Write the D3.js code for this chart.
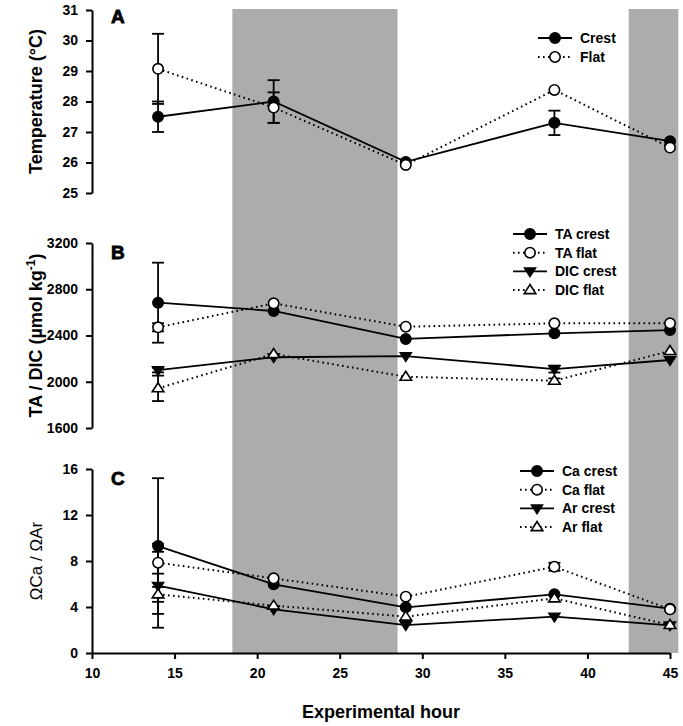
<!DOCTYPE html>
<html>
<head>
<meta charset="utf-8">
<script src="https://cdn.jsdelivr.net/npm/d3@7/dist/d3.min.js"></script>
<style>
  body { margin: 0; background: #fff; }
  svg { display: block; font-family: "Liberation Sans", Arial, sans-serif; }
</style>
</head>
<body>
<svg id="chart" width="683" height="726"></svg>
<script>
// ---------- data ----------
const hours = [14, 21, 29, 38, 45];
const xTicks = [10, 15, 20, 25, 30, 35, 40, 45];
const nightStart = [18.5, 42.5];
const nightEnd = [28.5, 45.5];

// Panel A – temperature
const tempCrest = [27.5, 28.0, 26.02, 27.3, 26.7];
const tempCrestErr = [0.5, 0.7, 0, 0.4, 0];
const tempFlat = [29.07, 27.8, 25.92, 28.38, 26.49];
const tempFlatErr = [1.15, 0.5, 0, 0, 0];
const ticksA = [25, 26, 27, 28, 29, 30, 31];

// Panel B – TA / DIC
const taCrest = [2684, 2612, 2370, 2419, 2447];
const taCrestErr = [346, 0, 0, 0, 0];
const taFlat = [2471, 2678, 2476, 2505, 2505];
const taFlatErr = [35, 0, 0, 0, 0];
const dicCrest = [2101, 2212, 2222, 2110, 2188];
const dicCrestErr = [20, 0, 0, 30, 0];
const dicFlat = [1943, 2240, 2043, 2009, 2266];
const dicFlatErr = [110, 0, 0, 20, 0];
const ticksB = [1600, 2000, 2400, 2800, 3200];

// Panel C – saturation states
const caCrest = [9.3, 5.97, 3.97, 5.1, 3.85];
const caCrestErr = [5.9, 0, 0, 0, 0];
const caFlat = [7.85, 6.49, 4.9, 7.5, 3.8];
const caFlatErr = [0.95, 0, 0, 0.35, 0];
const arCrest = [5.85, 3.8, 2.43, 3.16, 2.4];
const arCrestErr = [3.65, 0, 0, 0, 0];
const arFlat = [5.1, 4.12, 3.16, 4.75, 2.43];
const arFlatErr = [0.65, 0, 0, 0, 0];
const ticksC = [0, 4, 8, 12, 16];

// ---------- layout ----------
const svg = d3.select("#chart");
const x = d3.scaleLinear().domain([10, 45]).range([92, 670]);
const yA = d3.scaleLinear().domain([25, 31]).range([193, 10]);
const yB = d3.scaleLinear().domain([1600, 3200]).range([428, 243]);
const yC = d3.scaleLinear().domain([0, 16]).range([653, 469]);

const shade = "#adabac";
const shadeTop = 9, shadeBottom = yC(0);
const FONT = "Liberation Sans, Arial, sans-serif";

// night shading
svg.append("g").selectAll("rect")
  .data(nightStart.map((s, i) => [s, nightEnd[i]]))
  .join("rect")
  .attr("x", d => x(d[0]))
  .attr("width", d => x(d[1]) - x(d[0]))
  .attr("y", shadeTop)
  .attr("height", shadeBottom - shadeTop)
  .attr("fill", shade);

function yAxis(scale, ticks) {
  const g = svg.append("g")
    .attr("transform", `translate(${x(10)},0)`)
    .call(d3.axisLeft(scale).tickValues(ticks).tickSize(6).tickSizeOuter(0).tickPadding(8).tickFormat(d3.format("d")));
  g.select(".domain").attr("stroke-width", 2);
  g.selectAll(".tick line").attr("stroke-width", 2);
  g.selectAll(".tick text").attr("font-size", 14).attr("font-weight", "bold").attr("fill", "#000")
    .attr("font-family", FONT);
  return g;
}
yAxis(yA, ticksA);
yAxis(yB, ticksB);
yAxis(yC, ticksC);

// x axis
const gx = svg.append("g")
  .attr("transform", `translate(0,${yC(0)})`)
  .call(d3.axisBottom(x).tickValues(xTicks).tickSize(6).tickSizeOuter(0).tickPadding(9));
gx.select(".domain").attr("stroke-width", 2);
gx.selectAll(".tick line").attr("stroke-width", 2);
gx.selectAll(".tick text").attr("font-size", 14).attr("font-weight", "bold").attr("fill", "#000")
  .attr("font-family", FONT);

// ---------- series drawing ----------
const R = 5.2;
function marker(g, type, cx, cy) {
  if (type === "fc" || type === "oc") {
    g.append("circle").attr("cx", cx).attr("cy", cy).attr("r", R)
      .attr("fill", type === "fc" ? "#000" : "#fff").attr("stroke", "#000").attr("stroke-width", 1.6);
  } else if (type === "fd") {
    const s = 5.8;
    g.append("path").attr("d", `M${cx - s},${cy - s * 0.6}L${cx + s},${cy - s * 0.6}L${cx},${cy + s * 0.95}Z`)
      .attr("fill", "#000").attr("stroke", "#000").attr("stroke-width", 1.2);
  } else if (type === "ou") {
    const s = 5.8;
    g.append("path").attr("d", `M${cx - s},${cy + s * 0.6}L${cx + s},${cy + s * 0.6}L${cx},${cy - s * 0.95}Z`)
      .attr("fill", "#fff").attr("stroke", "#000").attr("stroke-width", 1.6);
  }
}

function series(y, vals, dashed) {
  const line = d3.line().x((d, i) => x(hours[i])).y(d => y(d));
  svg.append("path").datum(vals).attr("d", line)
    .attr("fill", "none").attr("stroke", "#000")
    .attr("stroke-width", dashed ? 2 : 1.8)
    .attr("stroke-dasharray", dashed ? "1.6,3.4" : null);
}

function errBars(y, vals, errs) {
  const g = svg.append("g");
  vals.forEach((v, i) => {
    const e = errs[i];
    if (!e) return;
    const cx = x(hours[i]);
    g.append("line").attr("x1", cx).attr("x2", cx).attr("y1", y(v + e)).attr("y2", y(v - e))
      .attr("stroke", "#000").attr("stroke-width", 1.8);
    [v + e, v - e].forEach(t => {
      g.append("line").attr("x1", cx - 6).attr("x2", cx + 6).attr("y1", y(t)).attr("y2", y(t))
        .attr("stroke", "#000").attr("stroke-width", 1.8);
    });
  });
}

function markers(y, vals, mtype) {
  const g = svg.append("g");
  vals.forEach((v, i) => marker(g, mtype, x(hours[i]), y(v)));
}

function panel(y, list) {
  list.forEach(s => series(y, s.vals, s.dashed));
  list.forEach(s => errBars(y, s.vals, s.errs));
  list.forEach(s => markers(y, s.vals, s.m));
}

const seriesA = [
  { vals: tempCrest, errs: tempCrestErr, dashed: false, m: "fc", name: "Crest" },
  { vals: tempFlat, errs: tempFlatErr, dashed: true, m: "oc", name: "Flat" }
];
const seriesB = [
  { vals: taCrest, errs: taCrestErr, dashed: false, m: "fc", name: "TA crest" },
  { vals: taFlat, errs: taFlatErr, dashed: true, m: "oc", name: "TA flat" },
  { vals: dicCrest, errs: dicCrestErr, dashed: false, m: "fd", name: "DIC crest" },
  { vals: dicFlat, errs: dicFlatErr, dashed: true, m: "ou", name: "DIC flat" }
];
const seriesC = [
  { vals: caCrest, errs: caCrestErr, dashed: false, m: "fc", name: "Ca crest" },
  { vals: caFlat, errs: caFlatErr, dashed: true, m: "oc", name: "Ca flat" },
  { vals: arCrest, errs: arCrestErr, dashed: false, m: "fd", name: "Ar crest" },
  { vals: arFlat, errs: arFlatErr, dashed: true, m: "ou", name: "Ar flat" }
];
panel(yA, seriesA);
panel(yB, seriesB);
panel(yC, seriesC);

// ---------- legends ----------
function legend(list, x0, y0, dy) {
  const g = svg.append("g");
  list.forEach((s, i) => {
    const yy = y0 + i * dy;
    g.append("line").attr("x1", x0).attr("x2", x0 + 34).attr("y1", yy).attr("y2", yy)
      .attr("stroke", "#000").attr("stroke-width", s.dashed ? 2 : 1.8)
      .attr("stroke-dasharray", s.dashed ? "1.6,3.4" : null);
    marker(g, s.m, x0 + 17, yy);
    g.append("text").attr("x", x0 + 42).attr("y", yy).attr("dy", "0.36em")
      .attr("font-size", 14).attr("font-weight", "bold").text(s.name);
  });
}
legend(seriesA, 538, 38, 19);
legend(seriesB, 513, 234, 18.7);
legend(seriesC, 520, 471, 18.7);

// ---------- panel letters ----------
[["A", 23], ["B", 259], ["C", 485]].forEach(([t, yy]) => {
  svg.append("text").attr("x", 111).attr("y", yy).attr("font-size", 19)
    .attr("font-weight", "bold").attr("stroke", "#000").attr("stroke-width", 0.8).text(t);
});

// ---------- axis titles ----------
function yTitle(cy) {
  return svg.append("text").attr("transform", `translate(42,${cy}) rotate(-90)`)
    .attr("text-anchor", "middle").attr("font-size", 18).attr("font-weight", "bold");
}
yTitle((yA(25) + yA(31)) / 2).text("Temperature (°C)");
const tB = yTitle((yB(1600) + yB(3200)) / 2);
tB.append("tspan").text("TA / DIC (µmol kg");
tB.append("tspan").attr("font-size", 12).attr("dy", -7).text("-1");
tB.append("tspan").attr("dy", 7).text(")");
yTitle((yC(0) + yC(16)) / 2).attr("font-weight", "normal").attr("font-size", 17).text("ΩCa / ΩAr");

svg.append("text").attr("x", 381).attr("y", 718).attr("text-anchor", "middle")
  .attr("font-size", 18).attr("font-weight", "bold").text("Experimental hour");
</script>
</body>
</html>
